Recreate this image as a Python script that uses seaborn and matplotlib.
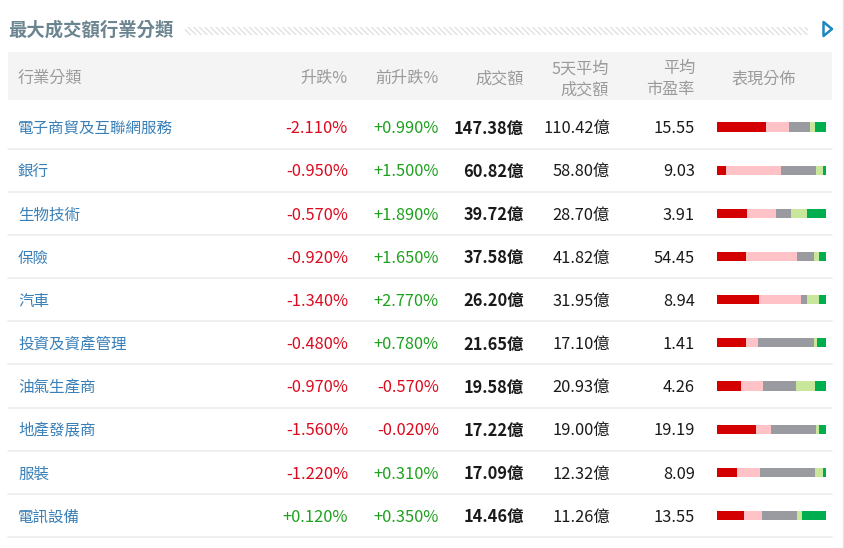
import numpy as np
import pandas as pd
import matplotlib
matplotlib.use("Agg")
import matplotlib.pyplot as plt
from matplotlib.patches import Rectangle, Polygon
import seaborn as sns

# ---------------- data ----------------
title = "最大成交額行業分類"
headers = ["行業分類", "升跌%", "前升跌%", "成交額", "5天平均\n成交額", "平均\n市盈率", "表現分佈"]
categories = ["電子商貿及互聯網服務", "銀行", "生物技術", "保險", "汽車",
              "投資及資產管理", "油氣生產商", "地產發展商", "服裝", "電訊設備"]
change_pct = [-2.110, -0.950, -0.570, -0.920, -1.340, -0.480, -0.970, -1.560, -1.220, 0.120]
prev_change_pct = [0.990, 1.500, 1.890, 1.650, 2.770, 0.780, -0.570, -0.020, 0.310, 0.350]
turnover = [147.38, 60.82, 39.72, 37.58, 26.20, 21.65, 19.58, 17.22, 17.09, 14.46]
avg5_turnover = [110.42, 58.80, 28.70, 41.82, 31.95, 17.10, 20.93, 19.00, 12.32, 11.26]
avg_pe = [15.55, 9.03, 3.91, 54.45, 8.94, 1.41, 4.26, 19.19, 8.09, 13.55]
dist_big_down = [145, 27, 88, 85, 126, 87, 70, 115, 59, 79]
dist_down = [71, 164, 88, 155, 125, 35, 67, 46, 70, 54]
dist_flat = [63, 105, 44, 51, 18, 167, 98, 134, 165, 105]
dist_up = [13, 20, 50, 14, 36, 10, 59, 10, 23, 15]
dist_big_up = [33, 9, 55, 20, 20, 26, 31, 20, 8, 72]

seg_colors = ["#d40000", "#ffc2c6", "#9a9ba0", "#c9e79b", "#00ad4f"]

# ---------------- style ----------------
sns.set_theme(style="white")
plt.rcParams["font.family"] = ["Noto Sans CJK TC", "DejaVu Sans"]

W, H = 845, 548
fig = plt.figure(figsize=(W / 100, H / 100), dpi=100)
fig.patch.set_facecolor("white")
ax = fig.add_axes([0, 0, 1, 1])
ax.set_xlim(0, W)
ax.set_ylim(H, 0)
ax.axis("off")

TY = 1.8  # small baseline correction for text

# title + decorative hatch + icon
ax.text(8, 28 + TY, title, fontsize=13.2, fontweight="bold", color="#6b8590",
        ha="left", va="center")
plt.rcParams["hatch.linewidth"] = 0.8
ax.add_patch(Rectangle((185, 27), 623, 8, facecolor="none", edgecolor="#dcdcdc",
                       hatch="\\\\\\\\\\\\", linewidth=0))
ax.add_patch(Polygon([[823.5, 22], [832, 29], [823.5, 36]], closed=True,
                     facecolor="white", edgecolor="#1f86c0", linewidth=1.8,
                     joinstyle="round"))
ax.plot([843, 843], [0, H], color="#e6e6e6", lw=1)

# header band
ax.add_patch(Rectangle((8, 52), 824, 48, facecolor="#f4f4f4", edgecolor="none"))
hc = "#9a9a9a"
hfs = 11.6
ax.text(18, 77 + TY, headers[0], fontsize=hfs, color=hc, ha="left", va="center")
ax.text(348, 77 + TY, headers[1], fontsize=hfs, color=hc, ha="right", va="center")
ax.text(439, 77 + TY, headers[2], fontsize=hfs, color=hc, ha="right", va="center")
ax.text(524, 77 + TY, headers[3], fontsize=hfs, color=hc, ha="right", va="center")
h5a, h5b = headers[4].split("\n")
ax.text(609, 67 + TY, h5a, fontsize=hfs, color=hc, ha="right", va="center")
ax.text(609, 88 + TY, h5b, fontsize=hfs, color=hc, ha="right", va="center")
hpa, hpb = headers[5].split("\n")
ax.text(695, 67 + TY, hpa, fontsize=hfs, color=hc, ha="right", va="center")
ax.text(695, 88 + TY, hpb, fontsize=hfs, color=hc, ha="right", va="center")
ax.text(764, 77 + TY, headers[6], fontsize=hfs, color=hc, ha="center", va="center")

# rows
y0, dy = 127.0, (515.5 - 127.0) / 9
red, green = "#dc0a1e", "#1fa01f"
fs = 11.2
nfs = 11.8
for i, name in enumerate(categories):
    y = y0 + i * dy
    ty = y + TY
    ax.text(18, ty, name, fontsize=fs, color="#3a80b8", ha="left", va="center")
    c = change_pct[i]
    ax.text(348, ty, f"{c:+.3f}%", fontsize=nfs, color=red if c < 0 else green,
            ha="right", va="center")
    p = prev_change_pct[i]
    ax.text(439, ty, f"{p:+.3f}%", fontsize=nfs, color=red if p < 0 else green,
            ha="right", va="center")
    ax.text(524, ty, f"{turnover[i]:.2f}億", fontsize=nfs, color="#1a1a1a",
            fontweight="bold", ha="right", va="center")
    ax.text(610, ty, f"{avg5_turnover[i]:.2f}億", fontsize=nfs, color="#1a1a1a",
            ha="right", va="center")
    ax.text(695, ty, f"{avg_pe[i]:.2f}", fontsize=nfs, color="#1a1a1a",
            ha="right", va="center")
    ax.plot([8, 832], [y + dy / 2, y + dy / 2], color="#ececec", lw=1.2)

# distribution bars (stacked, via seaborn)
segs = np.array([dist_big_down, dist_down, dist_flat, dist_up, dist_big_up], dtype=float)
shares = segs / segs.sum(axis=0) * 100
cum = np.cumsum(shares, axis=0)

top_px = y0 - dy / 2
bot_px = y0 + 9.5 * dy
bx0, bx1 = 717.3, 825.8
bax = fig.add_axes([bx0 / W, 1 - bot_px / H, (bx1 - bx0) / W, (bot_px - top_px) / H])
for k in range(4, -1, -1):
    df = pd.DataFrame({"cat": categories, "val": cum[k]})
    sns.barplot(data=df, x="val", y="cat", orient="h", color=seg_colors[k],
                saturation=1, width=0.21, linewidth=0, ax=bax, order=categories)
bax.set_xlim(0, 100)
bax.set_ylim(9.5, -0.5)
bax.axis("off")
bax.patch.set_alpha(0)

fig.savefig("out.png", dpi=100, facecolor="white")
